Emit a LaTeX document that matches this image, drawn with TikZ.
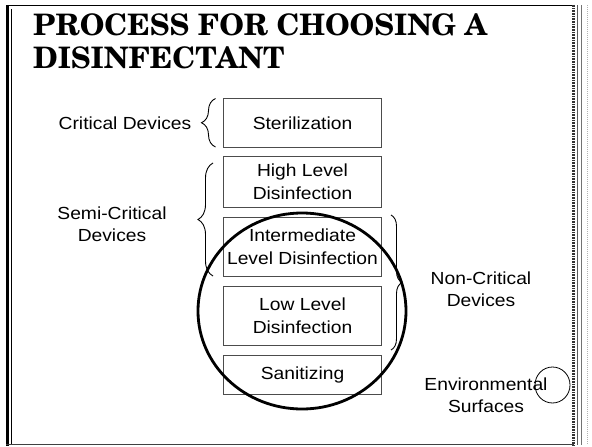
\documentclass[tikz,border=0pt]{standalone}
\usepackage{fontspec}
\setmainfont{Liberation Sans}[FakeStretch=1.1]
\newfontfamily\titlefont{texgyreschola-bold.otf}
\usetikzlibrary{decorations.pathreplacing}

\tikzset{
  stage/.style={draw=black!70, line width=0.9pt, minimum width=158pt,
    align=center, inner sep=0pt, font=\fontsize{17.5}{22.5}\selectfont},
  tag/.style={align=center, inner sep=0pt, font=\fontsize{17.5}{22.5}\selectfont},
  headline/.style={anchor=base west, inner sep=0pt, font=\titlefont\fontsize{29.6}{33}\selectfont},
  curly/.style={decorate, line width=0.9pt},
}

\begin{document}
\begin{tikzpicture}[x=1pt, y=-1pt]
\useasboundingbox (0,0) rectangle (592,447);
\fill[white] (0,0) rectangle (592,447);

% slide frame
\draw[line width=1.5pt] (6,5.5) -- (573.5,5.5);
\draw[line width=3pt] (7.5,4.75) -- (7.5,445.5);
\draw[line width=1.1pt] (11.8,9) -- (11.8,443.5);
\draw[line width=1.4pt, black!75] (6,444.5) -- (573.5,444.5);
\draw[line width=3pt, black!80, dash pattern=on 1pt off 0.6pt] (573.5,4.75) -- (573.5,445.5);
\draw[line width=0.9pt, black!65] (577.8,5) -- (577.8,445);
\draw[line width=0.9pt, black!55] (581.8,5) -- (581.8,445);
\draw[line width=0.6pt, black!30, dash pattern=on 1pt off 1pt] (587,5) -- (587,445);

% title
\node[headline] (title1) at (33,35) {PROCESS FOR CHOOSING A};
\node[headline] (title2) at (33,68) {DISINFECTANT};

% treatment levels
\node[stage, minimum height=48.5pt] (ster)  at (302.5,122.75) {Sterilization};
\node[stage, minimum height=51pt]   (high)  at (302.5,181.5) {High Level\\Disinfection};
\node[stage, minimum height=59pt]   (inter) at (302.5,246.5) {Intermediate\\Level Disinfection};
\node[stage, minimum height=59pt]   (low)   at (302.5,315.5) {Low Level\\Disinfection};
\node[stage, minimum height=39pt]   (sanit) at (302.5,374.5) {Sanitizing};

% device classes
\node[tag] (crit) at (125,123) {Critical Devices};
\node[tag] (semi) at (112,224) {Semi-Critical\\Devices};
\node[tag] (noncrit) at (481,289) {Non-Critical\\Devices};
\node[tag] (env) at (486,395) {Environmental\\Surfaces};

% braces
\coordinate (cbT) at (215.5,98.5);
\coordinate (cbB) at (215.5,147);
\draw[curly, decoration={brace, amplitude=14pt}] (cbB) -- (cbT);
\coordinate (sbT) at (213,163);
\coordinate (sbB) at (213,276);
\draw[curly, decoration={brace, amplitude=15pt}] (sbB) -- (sbT);
\coordinate (nbT) at (391,215);
\coordinate (nbB) at (391,350);
\draw[curly, decoration={brace, amplitude=11pt}] (nbT) -- (nbB);

% scope rings
\draw[line width=2.8pt] (302,311) ellipse [x radius=104pt, y radius=98pt];
\draw[line width=0.8pt] (552.5,385) ellipse [x radius=17.5pt, y radius=18pt];
\end{tikzpicture}
\end{document}
